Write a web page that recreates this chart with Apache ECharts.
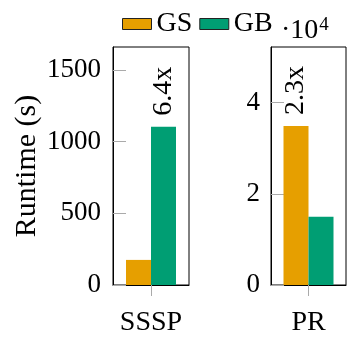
<!DOCTYPE html>
<html><head><meta charset="utf-8">
<script src="https://cdn.jsdelivr.net/npm/echarts@6/dist/echarts.min.js"></script>
<style>html,body{margin:0;padding:0;background:#fff}#c{width:347px;height:337px}</style>
</head><body><div id="c"></div>
<script>
const seriesNames = ['GS', 'GB'];
const leftCategories = ['SSSP'];
const rightCategories = ['PR'];
const ssspGS = [175];
const ssspGB = [1104];
const prGS = [34900];
const prGB = [14950];
const speedupLabels = ['6.4x', '2.3x'];
const colors = ['#E69F00', '#009E73'];
const FONT = 'Liberation Serif';
const FS = 28;
const FSN = 27;

const chart = echarts.init(document.getElementById('c'));
const axisLineStyle = {show: true, lineStyle: {color: '#000', width: 1}};
const yTick = {show: true, inside: true, length: 13, lineStyle: {color: '#aaa'}};
const xTick = {show: true, inside: false, length: 11, alignWithLabel: true, lineStyle: {color: '#aaa'}};
const lbl = {color: '#000', fontFamily: FONT, fontSize: FS};
const nlbl = {color: '#000', fontFamily: FONT, fontSize: FSN};

function speedLabel(text) {
  return {show: true, position: 'top', rotate: 90, align: 'left', verticalAlign: 'middle',
    distance: 11, formatter: text, color: '#000', fontFamily: FONT, fontSize: FS};
}

chart.setOption({
  animation: false,
  color: colors,
  legend: {
    data: seriesNames, left: 117, top: 5, icon: 'rect', itemWidth: 29, itemHeight: 11, itemGap: 7,
    itemStyle: {borderColor: '#222', borderWidth: 1},
    textStyle: {color: '#000', fontFamily: FONT, fontSize: FS, padding: [0, 0, 0, 0]}
  },
  graphic: [{
    type: 'text', left: 281, top: 16,
    style: {text: '{a|·10}{b|4}', rich: {
      a: {fontFamily: FONT, fontSize: FS, color: '#000', verticalAlign: 'bottom'},
      b: {fontFamily: FONT, fontSize: 19, color: '#000', verticalAlign: 'top', padding: [0, 0, 10, 1]}
    }}
  }],
  grid: [
    {left: 113, width: 76, top: 47, bottom: 50, show: true, borderColor: '#000', borderWidth: 1, containLabel: false},
    {left: 271, width: 75, top: 47, bottom: 50, show: true, borderColor: '#000', borderWidth: 1, containLabel: false}
  ],
  xAxis: [
    {type: 'category', gridIndex: 0, data: leftCategories, axisLine: axisLineStyle, axisTick: xTick,
      axisLabel: Object.assign({margin: 24}, lbl)},
    {type: 'category', gridIndex: 1, data: rightCategories, axisLine: axisLineStyle, axisTick: xTick,
      axisLabel: Object.assign({margin: 24}, lbl)}
  ],
  yAxis: [
    {type: 'value', gridIndex: 0, min: 0, max: 1660, interval: 500, splitLine: {show: false},
      axisLine: axisLineStyle, axisTick: yTick,
      axisLabel: Object.assign({margin: 12, showMaxLabel: false, formatter: v => String(v)}, nlbl),
      name: 'Runtime (s)', nameLocation: 'middle', nameGap: 71,
      nameTextStyle: {color: '#000', fontFamily: FONT, fontSize: 30}},
    {type: 'value', gridIndex: 1, min: 0, max: 52200, interval: 20000, splitLine: {show: false},
      axisLine: axisLineStyle, axisTick: yTick,
      axisLabel: Object.assign({margin: 11, showMaxLabel: false, formatter: v => String(v / 10000)}, nlbl)}
  ],
  series: [
    {name: seriesNames[0], type: 'bar', xAxisIndex: 0, yAxisIndex: 0, data: ssspGS, barWidth: 25, barGap: '0%', itemStyle: {color: colors[0]}},
    {name: seriesNames[1], type: 'bar', xAxisIndex: 0, yAxisIndex: 0, data: ssspGB, barWidth: 25, barGap: '0%', itemStyle: {color: colors[1]},
      label: speedLabel(speedupLabels[0])},
    {name: seriesNames[0], type: 'bar', xAxisIndex: 1, yAxisIndex: 1, data: prGS, barWidth: 25, barGap: '0%', itemStyle: {color: colors[0]},
      label: speedLabel(speedupLabels[1])},
    {name: seriesNames[1], type: 'bar', xAxisIndex: 1, yAxisIndex: 1, data: prGB, barWidth: 25, barGap: '0%', itemStyle: {color: colors[1]}}
  ]
});
</script></body></html>
